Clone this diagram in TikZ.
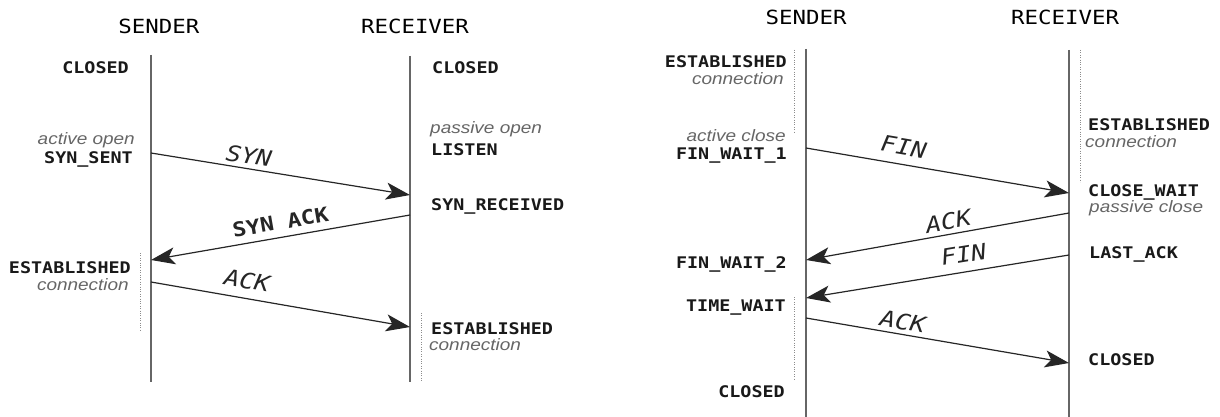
\documentclass[tikz,border=0pt]{standalone}
\usepackage{fontspec}
\newfontfamily\monofam[FakeStretch=1.15]{DejaVu Sans Mono}
\newfontfamily\notefam[FakeStretch=1.15]{Liberation Sans}
\usetikzlibrary{arrows.meta}

\begin{document}
\begin{tikzpicture}[x=1pt,y=-1pt,
  title/.style={font=\monofam\fontsize{19.5}{19.5}\selectfont, text=black, inner sep=0pt, anchor=base},
  state/.style={font=\monofam\bfseries\fontsize{16}{16}\selectfont, text=black!90, inner sep=0pt},
  note/.style={font=\notefam\itshape\fontsize{16.5}{16.5}\selectfont, text=black!60, inner sep=0pt},
  lifeline/.style={line width=1.8pt, draw=black!60},
  timer/.style={draw=black!45, line width=0.8pt, dash pattern=on 0.8pt off 1.6pt},
  msg/.style={line width=1.2pt, draw=black!85, -{Stealth[length=24pt,width=17pt,inset=6pt]}},
  msglabel/.style={font=\monofam\itshape\fontsize{22}{22}\selectfont, text=black!85, sloped, above=4pt, inner sep=0pt},
  msgbold/.style={msglabel, font=\monofam\bfseries\fontsize{20}{20}\selectfont}
]
\useasboundingbox (0,0) rectangle (1220,417);
\fill[white] (0,0) rectangle (1220,417);

% ---------------- connection set-up ----------------
\node[title] (oSender) at (159,34) {SENDER};
\node[title] (oReceiver) at (415,34) {RECEIVER};

\coordinate (oSTop) at (151,55);  \coordinate (oSBot) at (151,382);
\coordinate (oRTop) at (410,56);  \coordinate (oRBot) at (410,382);
\draw[lifeline] (oSTop) -- (oSBot);
\draw[lifeline] (oRTop) -- (oRBot);

\coordinate (oT1a) at (140,253); \coordinate (oT1b) at (140,330);
\coordinate (oT2a) at (421,313); \coordinate (oT2b) at (421,382);
\draw[timer] (oT1a) -- (oT1b);
\draw[timer] (oT2a) -- (oT2b);

\node[state, anchor=base east] (oClosedS) at (129,74) {CLOSED};
\node[state, anchor=base west] (oClosedR) at (432,74) {CLOSED};
\node[note, anchor=base east] (oActive) at (135,145) {active open};
\node[state, anchor=base east] (oSynSent) at (133,163) {SYN\_SENT};
\node[note, anchor=base west] (oPassive) at (430,133) {passive open};
\node[state, anchor=base west] (oListen) at (431,155) {LISTEN};
\node[state, anchor=base west] (oSynRcvd) at (431,210) {SYN\_RECEIVED};
\node[state, anchor=base east] (oEstS) at (131,273) {ESTABLISHED};
\node[note, anchor=base east] (oConnS) at (129,290) {connection};
\node[state, anchor=base west] (oEstR) at (431,334) {ESTABLISHED};
\node[note, anchor=base west] (oConnR) at (429,350) {connection};

\coordinate (oSyn1) at (151,153); \coordinate (oSyn2) at (410,195);
\coordinate (oSa1) at (410,215);  \coordinate (oSa2) at (151,260);
\coordinate (oAck1) at (151,282); \coordinate (oAck2) at (410,327);
\draw[msg] (oSyn1) -- node[msglabel, pos=0.37] (oSynLbl) {SYN} (oSyn2);
\draw[msg] (oSa1) -- node[msgbold, pos=0.49, above=3pt] (oSaLbl) {SYN ACK} (oSa2);
\draw[msg] (oAck1) -- node[msglabel, pos=0.36, above=5pt] (oAckLbl) {ACK} (oAck2);

% ---------------- connection tear-down ----------------
\node[title] (cSender) at (806,25) {SENDER};
\node[title] (cReceiver) at (1065,25) {RECEIVER};

\coordinate (cSTop) at (806,49);   \coordinate (cSBot) at (806,417);
\coordinate (cRTop) at (1069,50);  \coordinate (cRBot) at (1069,417);
\draw[lifeline] (cSTop) -- (cSBot);
\draw[lifeline] (cRTop) -- (cRBot);

\coordinate (cT1a) at (794,50);   \coordinate (cT1b) at (794,132);
\coordinate (cT2a) at (794,297);  \coordinate (cT2b) at (794,380);
\coordinate (cT3a) at (1080,50);  \coordinate (cT3b) at (1080,182);
\draw[timer] (cT1a) -- (cT1b);
\draw[timer] (cT2a) -- (cT2b);
\draw[timer] (cT3a) -- (cT3b);

\node[state, anchor=base east] (cEstS) at (787,68) {ESTABLISHED};
\node[note, anchor=base east] (cConnS) at (784,85) {connection};
\node[note, anchor=base east] (cActive) at (786,141) {active close};
\node[state, anchor=base east] (cFw1) at (787,159) {FIN\_WAIT\_1};
\node[state, anchor=base west] (cEstR) at (1088,131) {ESTABLISHED};
\node[note, anchor=base west] (cConnR) at (1085,147) {connection};
\node[state, anchor=base west] (cCloseWait) at (1088,196) {CLOSE\_WAIT};
\node[note, anchor=base west] (cPassive) at (1089,212) {passive close};
\node[state, anchor=base west] (cLastAck) at (1089,258) {LAST\_ACK};
\node[state, anchor=base east] (cFw2) at (787,268) {FIN\_WAIT\_2};
\node[state, anchor=base east] (cTimeWait) at (786,311) {TIME\_WAIT};
\node[state, anchor=base west] (cClosedR) at (1088,365) {CLOSED};
\node[state, anchor=base east] (cClosedS) at (785,397) {CLOSED};

\coordinate (cFin1) at (806,148);   \coordinate (cFin2) at (1069,193);
\coordinate (cAck1) at (1069,213);  \coordinate (cAck2) at (806,260);
\coordinate (cFinB1) at (1069,255); \coordinate (cFinB2) at (806,298);
\coordinate (cAckB1) at (806,318);  \coordinate (cAckB2) at (1069,363);
\draw[msg] (cFin1) -- node[msglabel, pos=0.36, above=5pt] (cFinLbl) {FIN} (cFin2);
\draw[msg] (cAck1) -- node[msglabel, pos=0.45] (cAckLbl) {ACK} (cAck2);
\draw[msg] (cFinB1) -- node[msglabel, pos=0.39, above=5pt] (cFinBLbl) {FIN} (cFinB2);
\draw[msg] (cAckB1) -- node[msglabel, pos=0.36] (cAckBLbl) {ACK} (cAckB2);
\end{tikzpicture}
\end{document}
